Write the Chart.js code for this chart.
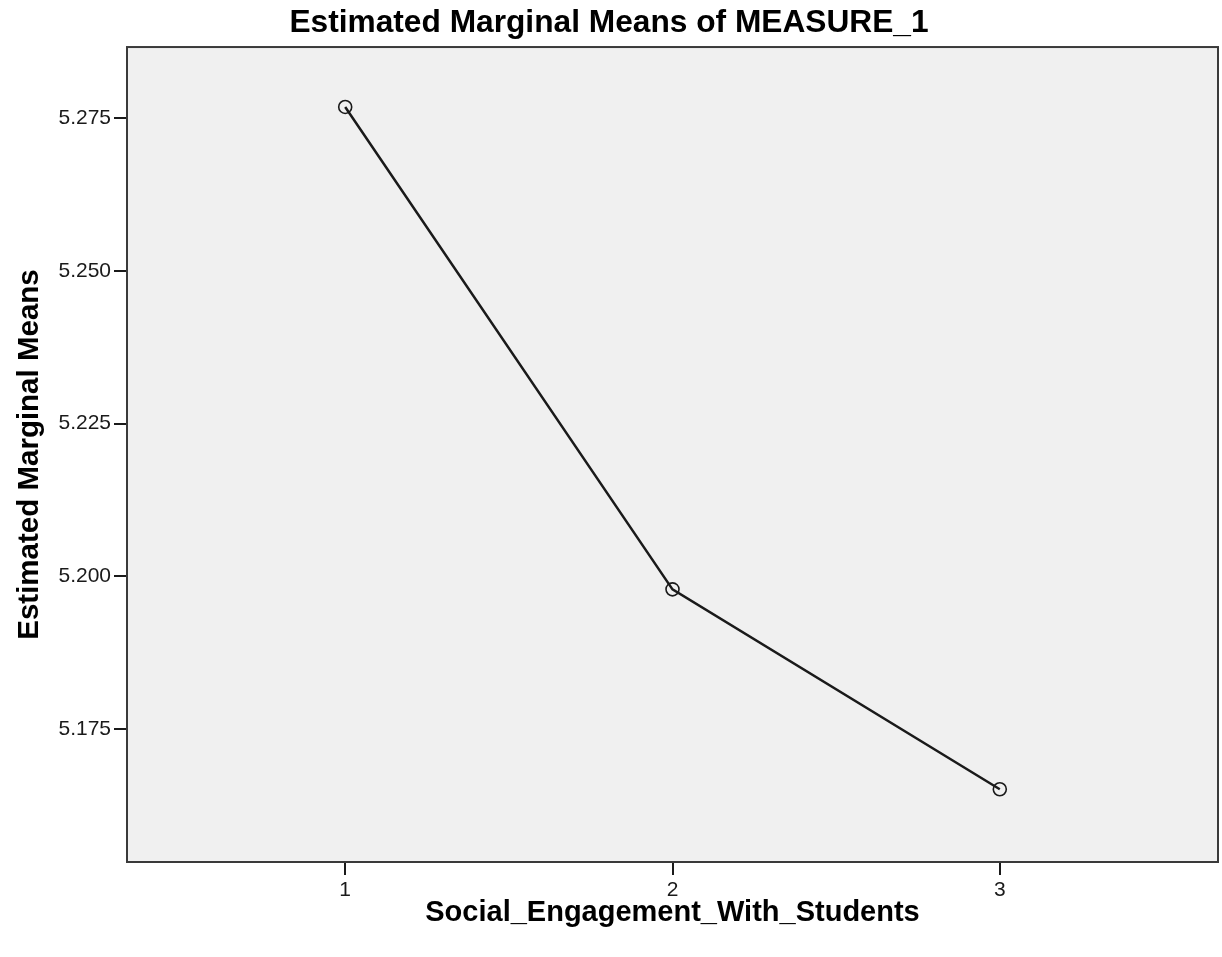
<!DOCTYPE html>
<html>
<head>
<meta charset="utf-8">
<script src="https://cdn.jsdelivr.net/npm/chart.js@4.4.1/dist/chart.umd.min.js"></script>
<style>
  html, body { margin: 0; padding: 0; background: #ffffff; }
  #wrap { width: 1222px; height: 957px; position: relative; }
</style>
</head>
<body>
<div id="wrap"><canvas id="c" width="1222" height="957"></canvas></div>
<script>
const chartTitle = "Estimated Marginal Means of MEASURE_1";
const xAxisTitle = "Social_Engagement_With_Students";
const yAxisTitle = "Estimated Marginal Means";
const categories = [1, 2, 3];
const meanValues = [5.2768, 5.1979, 5.1652];
const xTickValues = [1, 2, 3];
const yTickValues = [5.175, 5.200, 5.225, 5.250, 5.275];
const xRange = [1 / 3, 11 / 3];
const yRange = [5.1533, 5.2866];

const plotFramePlugin = {
  id: 'plotFrame',
  beforeDraw(chart) {
    const {ctx, chartArea: a} = chart;
    ctx.save();
    ctx.fillStyle = '#f0f0f0';
    ctx.fillRect(a.left, a.top, a.right - a.left, a.bottom - a.top);
    ctx.restore();
  },
  afterDraw(chart) {
    const {ctx, chartArea: a} = chart;
    ctx.save();
    ctx.strokeStyle = '#3a3a3a';
    ctx.lineWidth = 2;
    ctx.strokeRect(a.left, a.top, a.right - a.left, a.bottom - a.top);
    ctx.restore();
  }
};

const fontFamily = '"Liberation Sans", Arial, sans-serif';

new Chart(document.getElementById('c'), {
  type: 'line',
  data: {
    datasets: [{
      data: categories.map((x, i) => ({x: x, y: meanValues[i]})),
      borderColor: '#1a1a1a',
      borderWidth: 2.5,
      pointRadius: 6.5,
      pointBorderWidth: 1.6,
      pointBackgroundColor: 'rgba(0,0,0,0)',
      pointBorderColor: '#1a1a1a',
      tension: 0,
      fill: false
    }]
  },
  options: {
    responsive: false,
    animation: false,
    devicePixelRatio: 1,
    layout: { autoPadding: false, padding: { left: 0, right: 4, top: 0, bottom: 0 } },
    plugins: {
      legend: { display: false },
      tooltip: { enabled: false },
      title: {
        display: true,
        text: chartTitle,
        color: '#000000',
        font: { family: fontFamily, size: 31.7, weight: 'bold', lineHeight: 1.2 },
        padding: { top: 4, bottom: 5 }
      }
    },
    scales: {
      x: {
        type: 'linear',
        min: xRange[0],
        max: xRange[1],
        afterBuildTicks(scale) { scale.ticks = xTickValues.map(v => ({value: v})); },
        afterFit(scale) { scale.height = 95; },
        grid: { drawOnChartArea: false, drawTicks: true, tickLength: 13, color: '#1a1a1a', lineWidth: 2 },
        border: { display: false },
        ticks: {
          color: '#1a1a1a',
          padding: 3,
          font: { family: fontFamily, size: 21 },
          callback: v => String(v)
        },
        title: {
          display: true,
          text: xAxisTitle,
          color: '#000000',
          font: { family: fontFamily, size: 29, weight: 'bold', lineHeight: 1.2 },
          padding: { top: 4, bottom: 27 }
        }
      },
      y: {
        type: 'linear',
        min: yRange[0],
        max: yRange[1],
        afterBuildTicks(scale) { scale.ticks = yTickValues.map(v => ({value: v})); },
        afterFit(scale) { scale.width = 127; },
        grid: { drawOnChartArea: false, drawTicks: true, tickLength: 13, color: '#1a1a1a', lineWidth: 2 },
        border: { display: false },
        ticks: {
          color: '#1a1a1a',
          padding: 3,
          font: { family: fontFamily, size: 21 },
          callback: v => v.toFixed(3)
        },
        title: {
          display: true,
          text: yAxisTitle,
          color: '#000000',
          font: { family: fontFamily, size: 29.5, weight: 'bold', lineHeight: 1.2 },
          padding: { top: 12, bottom: 4 }
        }
      }
    }
  },
  plugins: [plotFramePlugin]
});
</script>
</body>
</html>
